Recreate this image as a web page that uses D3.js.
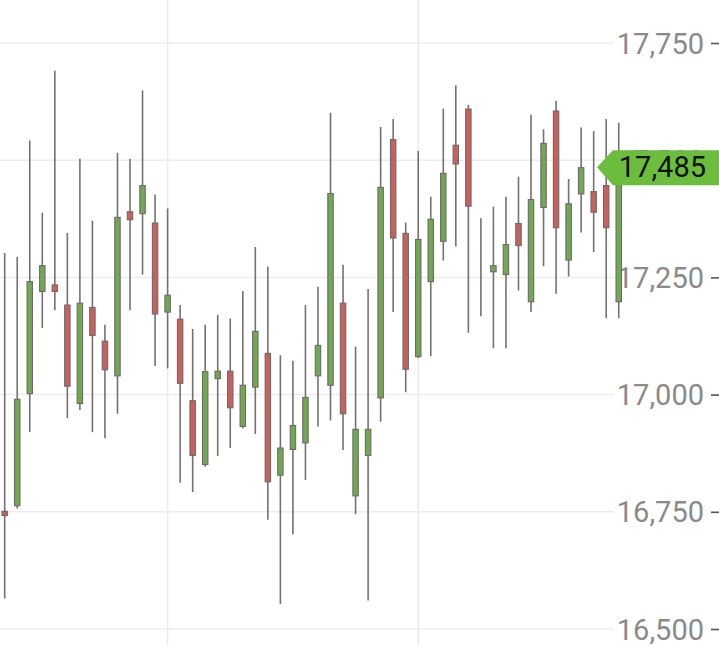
<!DOCTYPE html>
<html>
<head>
<meta charset="utf-8">
<script src="https://cdn.jsdelivr.net/npm/d3@7"></script>
<style>
  html, body { margin: 0; padding: 0; background: #ffffff; }
  svg { display: block; }
</style>
</head>
<body>
<script>
// ---- data ----
const sessions = d3.range(1, 51);
const openVals  = [16751,16763,17002,17220,17234,17191,16981,17186,17114,17040,
                   17390,17386,17366,17176,17161,16987,16851,17034,17050,16932,
                   17016,17088,16828,16883,16897,17040,17020,17195,16784,16870,
                   16993,17544,17344,17081,17241,17327,17532,17609,17225,17262,
                   17256,17365,17198,17399,17605,17287,17428,17433,17446,17198];
const highVals  = [17302,17294,17542,17388,17691,17345,17503,17371,17149,17516,
                   17503,17649,17427,17397,17191,17140,17149,17170,17162,17221,
                   17315,17273,17084,17072,17191,17230,17601,17277,17102,17225,
                   17571,17588,17367,17520,17422,17610,17660,17618,17376,17401,
                   17422,17465,17597,17566,17627,17460,17570,17562,17588,17580];
const lowVals   = [16565,16757,16920,17142,17180,16950,16967,16920,16907,16959,
                   17180,17256,17061,17056,16812,16792,16846,16869,16886,16928,
                   16916,16733,16553,16702,16818,16932,16945,16882,16745,16561,
                   16942,17176,17005,17078,17082,17286,17316,17132,17167,17099,
                   17099,17222,17176,17274,17215,17252,17346,17304,17163,17163];
const closeVals = [16742,16990,17241,17275,17220,17018,17195,17126,17053,17378,
                   17373,17446,17172,17212,17024,16870,17049,17050,16972,17020,
                   17135,16814,16886,16934,16994,17105,17429,16959,16926,16926,
                   17442,17334,17054,17331,17374,17472,17492,17402,17225,17275,
                   17320,17318,17416,17536,17356,17407,17484,17389,17356,17485];
const yTicks = [16500, 16750, 17000, 17250, 17500, 17750];
const dateBreaks = [14, 34];       // sessions where a vertical grid line is drawn
const lastPrice = 17485;

// ---- layout ----
const W = 719, H = 645;
const svg = d3.select("body").append("svg").attr("width", W).attr("height", H);

const x = d3.scaleBand().domain(sessions).range([-1.57, 625.0]).padding(0);
const y = d3.scaleLinear().domain([16500, 17750]).range([629, 43]);
const fmt = d3.format(",");

// grid
const grid = svg.append("g");
grid.selectAll("line.h").data(yTicks).join("line")
  .attr("x1", 0).attr("x2", 614)
  .attr("y1", d => y(d)).attr("y2", d => y(d))
  .attr("stroke", "#ececec").attr("stroke-width", 1.5);
grid.selectAll("line.v").data(dateBreaks).join("line")
  .attr("x1", d => x(d) + x.bandwidth() / 2).attr("x2", d => x(d) + x.bandwidth() / 2)
  .attr("y1", 0).attr("y2", H)
  .attr("stroke", "#ececec").attr("stroke-width", 1.5);

// axis (right)
const axis = d3.axisRight(y).tickValues(yTicks).tickFormat(fmt).tickSize(0).tickPadding(0);
const ag = svg.append("g").attr("transform", "translate(704,0)").call(axis);
ag.select(".domain").remove();
ag.selectAll("text")
  .attr("text-anchor", "end")
  .attr("x", 0)
  .attr("dy", "0.35em")
  .style("font-family", "Roboto, 'Noto Sans', sans-serif")
  .style("font-size", "29px")
  .attr("fill", "#8a8a8a");
ag.selectAll(".tick").append("line")
  .attr("x1", 7).attr("x2", 15).attr("y1", 0).attr("y2", 0)
  .attr("stroke", "#555555").attr("stroke-width", 1.6);

// candles
const candles = sessions.map((s, i) => ({
  s, o: openVals[i], h: highVals[i], l: lowVals[i], c: closeVals[i]
}));
const cg = svg.append("g");
const bw = 5.4;
cg.selectAll("line.wick").data(candles).join("line")
  .attr("x1", d => x(d.s) + x.bandwidth() / 2)
  .attr("x2", d => x(d.s) + x.bandwidth() / 2)
  .attr("y1", d => y(d.h)).attr("y2", d => y(d.l))
  .attr("stroke", "#757170").attr("stroke-width", 1.6);
cg.selectAll("rect.body").data(candles).join("rect")
  .attr("x", d => x(d.s) + x.bandwidth() / 2 - bw / 2)
  .attr("width", bw)
  .attr("y", d => y(Math.max(d.o, d.c)))
  .attr("height", d => Math.abs(y(d.o) - y(d.c)))
  .attr("fill", d => d.c > d.o ? "#71a852" : (d.c < d.o ? "#c8605e" : "#757170"))
  .attr("stroke", "#6e6a68").attr("stroke-width", 1.1);

// current price marker
const py = y(lastPrice);
const lg = svg.append("g");
lg.append("path")
  .attr("d", `M597,${py} L613,${py - 17} L719,${py - 17} L719,${py + 18} L613,${py + 18} Z`)
  .attr("fill", "#6cbd3d");
lg.append("text")
  .attr("x", 706).attr("y", py).attr("dy", "0.35em")
  .attr("text-anchor", "end")
  .style("font-family", "Roboto, 'Noto Sans', sans-serif")
  .style("font-size", "29px")
  .attr("fill", "#111111")
  .text(fmt(lastPrice));
</script>
</body>
</html>
